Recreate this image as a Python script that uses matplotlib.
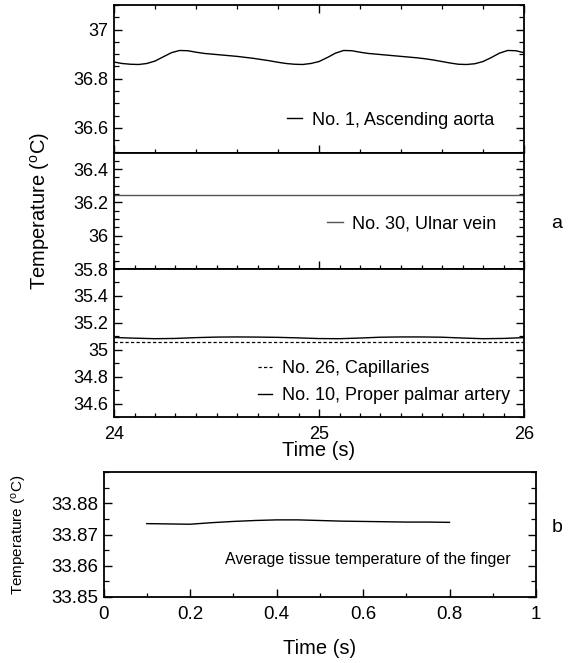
#!/usr/bin/env python3
from __future__ import annotations

import matplotlib

matplotlib.use("Agg", force=True)
import matplotlib.pyplot as plt
from matplotlib.lines import Line2D
from matplotlib.ticker import FormatStrFormatter, MultipleLocator

# --- panel a: blood temperature over two cardiac cycles ---
time_a = [
    24.00, 24.04, 24.08, 24.12, 24.16, 24.20, 24.24, 24.28, 24.32, 24.36,
    24.40, 24.44, 24.48, 24.52, 24.56, 24.60, 24.64, 24.68, 24.72, 24.76,
    24.80, 24.84, 24.88, 24.92, 24.96, 25.00, 25.04, 25.08, 25.12, 25.16,
    25.20, 25.24, 25.28, 25.32, 25.36, 25.40, 25.44, 25.48, 25.52, 25.56,
    25.60, 25.64, 25.68, 25.72, 25.76, 25.80, 25.84, 25.88, 25.92, 25.96,
    26.00,
]
aorta_temp = [
    36.868, 36.862, 36.859, 36.858, 36.862, 36.872, 36.889, 36.906, 36.915, 36.914,
    36.908, 36.903, 36.900, 36.897, 36.894, 36.891, 36.887, 36.883, 36.878, 36.873,
    36.867, 36.862, 36.859, 36.858, 36.862, 36.870, 36.886, 36.904, 36.915, 36.914,
    36.908, 36.903, 36.900, 36.897, 36.894, 36.891, 36.888, 36.885, 36.881, 36.876,
    36.870, 36.864, 36.859, 36.858, 36.861, 36.870, 36.886, 36.904, 36.915, 36.914,
    36.906,
]

time_a_coarse = [
    24.0, 24.1, 24.2, 24.3, 24.4, 24.5, 24.6, 24.7, 24.8, 24.9,
    25.0, 25.1, 25.2, 25.3, 25.4, 25.5, 25.6, 25.7, 25.8, 25.9, 26.0,
]
palmar_temp = [
    35.092, 35.087, 35.083, 35.085, 35.091, 35.095, 35.096, 35.095, 35.093, 35.089,
    35.084, 35.083, 35.088, 35.094, 35.096, 35.096, 35.094, 35.088, 35.083, 35.085, 35.091,
]
capillary_temp = [35.062] * len(time_a_coarse)
ulnar_temp = [36.245] * len(time_a_coarse)

aorta_yticks = [36.6, 36.8, 37.0]
ulnar_yticks = [35.8, 36.0, 36.2, 36.4]
lower_yticks = [34.6, 34.8, 35.0, 35.2, 35.4]
time_a_ticks = [24, 25, 26]

# --- panel b: average finger tissue temperature ---
time_b = [0.10, 0.15, 0.20, 0.25, 0.30, 0.35, 0.40, 0.45, 0.50, 0.55, 0.60, 0.65, 0.70, 0.75, 0.80]
tissue_temp = [
    33.8735, 33.8734, 33.8733, 33.8738, 33.8742, 33.8745, 33.8747, 33.8747,
    33.8745, 33.8743, 33.8742, 33.8741, 33.8740, 33.8740, 33.8739,
]
tissue_yticks = [33.85, 33.86, 33.87, 33.88]
time_b_ticks = [0, 0.2, 0.4, 0.6, 0.8, 1.0]

W, H = 574, 663
DASH = (0, (2.6, 1.8))


def _apply_style() -> None:
    plt.rcParams.update(
        {
            "font.family": ["Liberation Sans", "DejaVu Sans"],
            "font.size": 13,
            "axes.linewidth": 1.3,
            "xtick.direction": "in",
            "ytick.direction": "in",
            "xtick.major.size": 5.5,
            "ytick.major.size": 6.0,
            "xtick.minor.size": 3.0,
            "ytick.minor.size": 3.5,
            "xtick.major.width": 1.0,
            "ytick.major.width": 1.0,
            "xtick.minor.width": 0.9,
            "ytick.minor.width": 0.9,
            "mathtext.default": "regular",
        }
    )


def _rect(left: float, top: float, right: float, bottom: float) -> list[float]:
    return [left / W, 1 - bottom / H, (right - left) / W, (bottom - top) / H]


def _style_axis(ax, yticks, yminor, xminor, top_ticks, show_x) -> None:
    ax.set_xlim(24, 26)
    ax.set_xticks(time_a_ticks)
    ax.xaxis.set_minor_locator(MultipleLocator(xminor))
    ax.set_yticks(yticks)
    ax.yaxis.set_minor_locator(MultipleLocator(yminor))
    ax.xaxis.set_major_formatter(FormatStrFormatter("%g"))
    ax.yaxis.set_major_formatter(FormatStrFormatter("%g"))
    ax.tick_params(which="both", right=True, top=top_ticks, labelbottom=show_x)
    ax.tick_params(axis="y", labelsize=13, pad=4)
    ax.tick_params(axis="x", labelsize=13, pad=6)


def _legend(ax, handles, anchor, handlelength) -> None:
    ax.legend(
        handles=handles,
        loc="center left",
        bbox_to_anchor=anchor,
        frameon=False,
        fontsize=13,
        handlelength=handlelength,
        handletextpad=0.55,
        borderpad=0,
        borderaxespad=0,
        labelspacing=0.55,
    )


def main() -> None:
    _apply_style()
    fig = plt.figure(figsize=(W / 100, H / 100), dpi=100)

    ax1 = fig.add_axes(_rect(114, 5, 524, 152.5))
    ax2 = fig.add_axes(_rect(114, 152.5, 524, 269))
    ax3 = fig.add_axes(_rect(114, 269, 524, 417.3))
    axb = fig.add_axes(_rect(103.5, 472.3, 536, 596.7))

    # ascending aorta
    ax1.plot(time_a, aorta_temp, color="black", lw=1.0)
    ax1.set_ylim(36.5, 37.1)
    _style_axis(ax1, aorta_yticks, 0.05, 0.2, True, False)
    _legend(ax1, [Line2D([], [], color="black", lw=1.0, label="No. 1, Ascending aorta")], (0.422, 0.22), 0.85)

    # ulnar vein
    ax2.plot(time_a_coarse, ulnar_temp, color="#555555", lw=1.0)
    ax2.set_ylim(35.8, 36.5)
    _style_axis(ax2, ulnar_yticks, 0.05, 0.1, False, False)
    _legend(ax2, [Line2D([], [], color="#555555", lw=1.0, label="No. 30, Ulnar vein")], (0.52, 0.386), 0.85)

    # capillaries and proper palmar artery
    ax3.plot(time_a_coarse, palmar_temp, color="black", lw=1.0)
    ax3.plot(time_a_coarse, capillary_temp, color="black", lw=0.9, ls=DASH)
    ax3.set_ylim(34.5, 35.6)
    _style_axis(ax3, lower_yticks, 0.1, 0.1, False, True)
    ax3.set_xlabel("Time (s)", fontsize=14.5, labelpad=-1)
    _legend(
        ax3,
        [
            Line2D([], [], color="black", lw=0.9, ls=DASH, label="No. 26, Capillaries"),
            Line2D([], [], color="black", lw=1.0, label="No. 10, Proper palmar artery"),
        ],
        (0.35, 0.238),
        0.8,
    )

    fig.text(40 / W, 1 - 211 / H, "Temperature ($^{o}$C)", rotation=90, ha="center", va="center", fontsize=14.5)
    fig.text(557 / W, 1 - 224 / H, "a", ha="center", va="center", fontsize=14)

    # finger tissue average
    axb.plot(time_b, tissue_temp, color="black", lw=1.0)
    axb.set_xlim(0, 1)
    axb.set_ylim(33.85, 33.89)
    axb.set_xticks(time_b_ticks)
    axb.xaxis.set_minor_locator(MultipleLocator(0.1))
    axb.set_yticks(tissue_yticks)
    axb.yaxis.set_minor_locator(MultipleLocator(0.005))
    axb.xaxis.set_major_formatter(FormatStrFormatter("%g"))
    axb.yaxis.set_major_formatter(FormatStrFormatter("%.2f"))
    axb.tick_params(which="both", right=True, top=False)
    axb.tick_params(axis="both", labelsize=13.5)
    axb.tick_params(axis="y", pad=4)
    axb.tick_params(axis="x", pad=7)
    axb.set_xlabel("Time (s)", fontsize=14.5, labelpad=11)
    axb.text(0.61, 0.3, "Average tissue temperature of the finger", transform=axb.transAxes,
             ha="center", va="center", fontsize=11.5)
    fig.text(20 / W, 1 - 535 / H, "Temperature ($^{o}$C)", rotation=90, ha="center", va="center", fontsize=11)
    fig.text(557 / W, 1 - 528 / H, "b", ha="center", va="center", fontsize=14)

    fig.savefig("out.png", dpi=100)
    plt.close(fig)


if __name__ == "__main__":
    main()
